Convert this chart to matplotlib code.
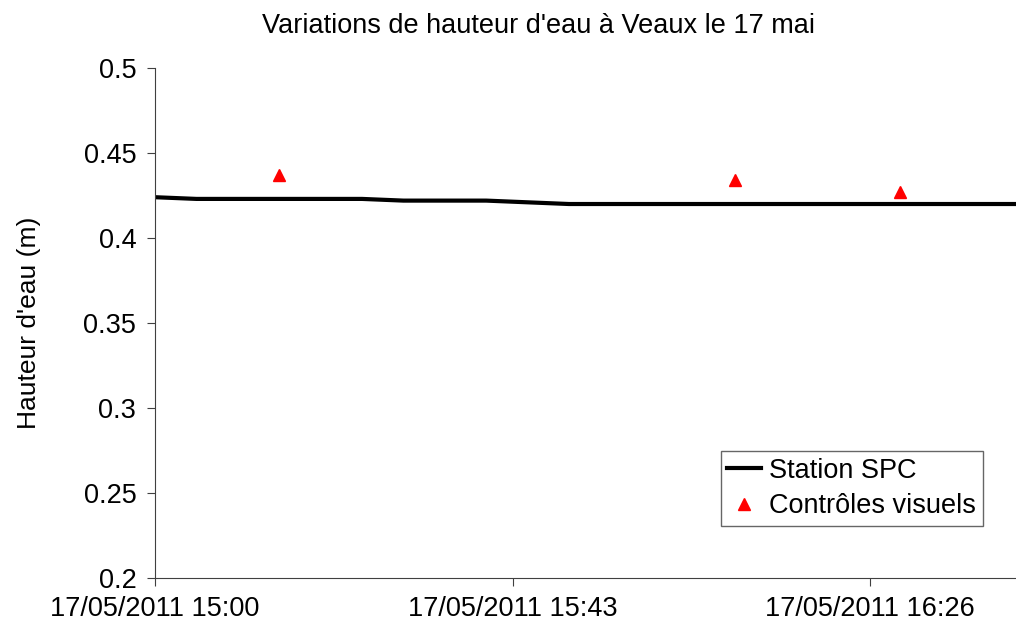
import numpy as np
import matplotlib.pyplot as plt
import matplotlib.dates as mdates
from datetime import datetime, timedelta

plt.rcParams['font.family'] = ['Liberation Sans', 'DejaVu Sans']

# Station SPC : mesures toutes les 5 minutes
t0 = datetime(2011, 5, 17, 15, 0)
station_min = [0, 5, 10, 15, 20, 25, 30, 35, 40, 45, 50, 55, 60, 65, 70, 75, 80, 85, 90, 95, 100, 105]
station_h = [0.424, 0.423, 0.423, 0.423, 0.423, 0.423, 0.422, 0.422, 0.422, 0.421, 0.420, 0.420,
             0.420, 0.420, 0.420, 0.420, 0.420, 0.420, 0.420, 0.420, 0.420, 0.420]

# Contrôles visuels
controle_min = [15, 70, 90]
controle_h = [0.437, 0.434, 0.427]

station_t = [t0 + timedelta(minutes=m) for m in station_min]
controle_t = [t0 + timedelta(minutes=m) for m in controle_min]

fig = plt.figure(figsize=(10.16, 6.28), dpi=100)
ax = fig.add_axes([0.1526, 0.0796, 0.8474, 0.8121])

ax.plot(station_t, station_h, color='black', lw=3, label='Station SPC')
ax.plot(controle_t, controle_h, linestyle='none', marker='^', color='red', ms=8,
        label='Contrôles visuels')

# axe des dates façon Excel : pas de 0.03 jour
ticks = [mdates.date2num(t0) + 0.03 * k for k in range(4)]
ax.xaxis.set_major_locator(plt.FixedLocator(ticks))
ax.xaxis.set_major_formatter(mdates.DateFormatter('%d/%m/%Y %H:%M'))
ax.set_xlim(mdates.date2num(t0), mdates.date2num(t0 + timedelta(minutes=104)))

ax.set_ylim(0.2, 0.5)
ax.set_yticks(np.arange(0.2, 0.51, 0.05))
ax.set_yticklabels(['0.2', '0.25', '0.3', '0.35', '0.4', '0.45', '0.5'])

for s in ['top', 'right']:
    ax.spines[s].set_visible(False)
ax.spines['left'].set_color('#404040')
ax.spines['bottom'].set_color('#404040')
ax.tick_params(axis='both', labelsize=19.5, length=6, color='#404040')
ax.tick_params(axis='x', pad=7)
ax.tick_params(axis='y', pad=7.5)

ax.set_ylabel("Hauteur d'eau (m)", fontsize=19)
ax.yaxis.set_label_coords(-0.132, 0.5)
fig.text(0.530, 0.9586, "Variations de hauteur d'eau à Veaux le 17 mai", fontsize=19.5,
         ha='center', va='center')

leg = ax.legend(loc='lower right', bbox_to_anchor=(0.9617, 0.102), fontsize=19.5,
                frameon=True, fancybox=False, edgecolor='#404040',
                handlelength=1.25, borderpad=0.25, labelspacing=0.35, handletextpad=0.3,
                borderaxespad=0)
leg.get_frame().set_linewidth(1)

fig.savefig('out.png', dpi=100)
